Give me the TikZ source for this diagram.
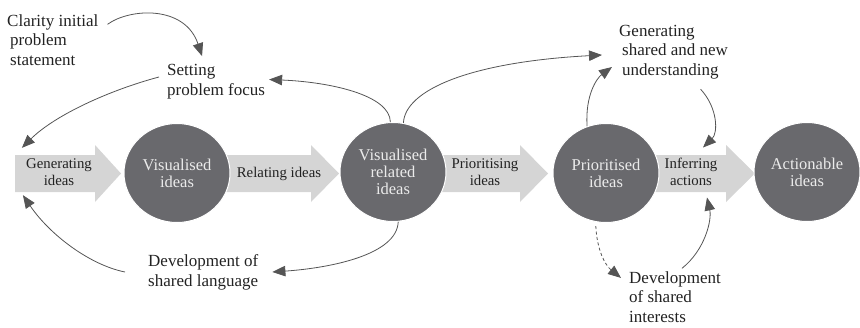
\documentclass[tikz,border=0pt]{standalone}
\usepackage{fontspec}
\setmainfont{Liberation Serif}
\usetikzlibrary{shapes.geometric,arrows.meta,calc}
\definecolor{circfill}{HTML}{69696D}
\definecolor{circtext}{HTML}{EBEBEB}
\definecolor{blkfill}{HTML}{D5D5D5}
\definecolor{conncol}{HTML}{555555}
\definecolor{txtcol}{HTML}{222222}
\tikzset{
  bubble/.style={ellipse, fill=circfill, draw=white, line width=1pt,
    minimum width=106pt, minimum height=99pt, inner sep=0pt,
    text=circtext, align=center, font=\fontsize{16.5}{17}\selectfont},
  blockarrow/.style={fill=blkfill, draw=none},
  arrtext/.style={inner sep=0pt, align=center, text=txtcol,
    font=\fontsize{14.8}{17}\selectfont},
  lab/.style={inner sep=0pt, align=left, anchor=west, text=txtcol,
    font=\fontsize{17}{19.5}\selectfont},
  connector/.style={draw=conncol, line width=0.8pt,
    -{Triangle[length=13pt,width=10.5pt]}},
  dashedconnector/.style={connector, dash pattern=on 3pt off 2.5pt},
}
\begin{document}
\begin{tikzpicture}[x=1pt,y=-1pt]
\useasboundingbox (0,0) rectangle (860,327);

% block arrows
\fill[blockarrow] (15,155) -- (95,155) -- (95,145) -- (121,173.5) -- (95,202) -- (95,192) -- (15,192) -- cycle;
\fill[blockarrow] (225,155) -- (311,155) -- (311,145) -- (339,173.5) -- (311,202) -- (311,192) -- (225,192) -- cycle;
\fill[blockarrow] (435,155) -- (520,155) -- (520,145) -- (548,173.5) -- (520,202) -- (520,192) -- (435,192) -- cycle;
\fill[blockarrow] (650,155) -- (726,155) -- (726,145) -- (755,173.5) -- (726,202) -- (726,192) -- (650,192) -- cycle;

% arrow texts
\node[arrtext] (gen) at (59,172) {Generating\\ideas};
\node[arrtext] (rel) at (279,173.5) {Relating ideas};
\node[arrtext] (pri) at (485,172) {Prioritising\\ideas};
\node[arrtext] (inf) at (691,172) {Inferring\\actions};

% circles
\node[bubble] (V1) at (177,173) {Visualised\\ideas};
\node[bubble] (V2) at (393,172) {Visualised\\related\\ideas};
\node[bubble] (P) at (606,173) {Prioritised\\ideas};
\node[bubble] (A) at (807,172) {Actionable\\ideas};

% labels
\node[lab] (clar) at (7,40) {Clarity initial\\\hspace*{3pt}problem\\\hspace*{3pt}statement};
\node[lab] (set) at (167,81.5) {Setting\\problem focus};
\node[lab] (dsl) at (148,272.5) {Development of\\shared language};
\node[lab] (gsn) at (619,52) {Generating\\\hspace*{3pt}shared and new\\\hspace*{3pt}understanding};
\node[lab] (dsi) at (629,297) {Development\\of shared\\interests};

% connectors
\draw[connector] ($(clar.north east)+(9,10)$) .. controls (130,8) and (185,5) .. ($(set.north)+(-14,-8)$);
\draw[connector] ($(set.west)+(-8,-4.5)$) .. controls (110,90) and (55,115) .. ($(gen.north west)+(-4,-10.5)$);
\draw[connector] (V2.93) .. controls (390,95) and (330,82) .. ($(set.east)+(4,-2)$);
\draw[connector] (V2.78) .. controls (405,90) and (470,62) .. ($(gsn.west)+(-17,3)$);
\draw[connector] (P.112) .. controls (585,95) and (597,78) .. ($(gsn.west)+(-7,15)$);
\draw[connector] ($(gsn.south)+(27,10)$) .. controls (718,108) and (718,133) .. ($(inf.north)+(12,-10.5)$);
\draw[connector] ($(dsi.north)+(7,-3)$) .. controls (705,250) and (712,220) .. ($(inf.south)+(16,11.5)$);
\draw[dashedconnector, shorten <=4pt] (P.258) .. controls (597,250) and (605,265) .. ($(dsi.north west)+(-8,6.6)$);
\draw[connector] (V2.276) .. controls (397,255) and (330,268) .. ($(dsl.east)+(14,-0.5)$);
\draw[connector] ($(dsl.west)+(-23,-0.5)$) .. controls (90,265) and (50,235) .. ($(gen.south west)+(-3,9.5)$);
\end{tikzpicture}
\end{document}
